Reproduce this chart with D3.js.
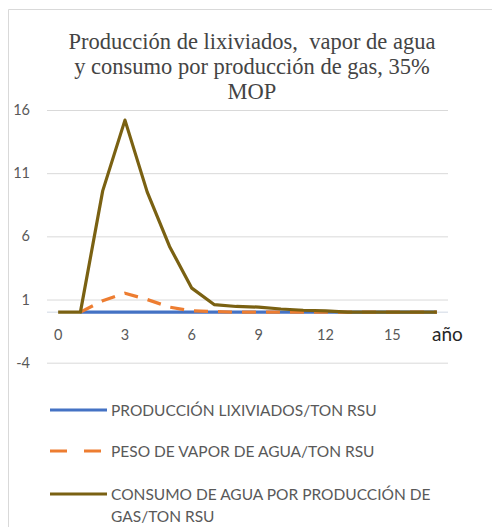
<!DOCTYPE html>
<html><head><meta charset="utf-8">
<script src="https://cdn.jsdelivr.net/npm/d3@7"></script>
<style>body{margin:0;background:#fff}svg{display:block}.ttl{white-space:pre}</style>
</head><body>
<svg id="c" width="492" height="527"></svg>
<script>
const titleLines = ["Producción de lixiviados,  vapor de agua", "y consumo por producción de gas, 35%", "MOP"];
const years = d3.range(0, 18);
const xTickLabels = [0, 3, 6, 9, 12, 15];
const yTicks = [-4, 1, 6, 11, 16];
const seriesNames = ["PRODUCCIÓN LIXIVIADOS/TON RSU", "PESO DE VAPOR DE AGUA/TON RSU", "CONSUMO DE AGUA POR PRODUCCIÓN DE GAS/TON RSU"];
const lixiviados = [null, 0, 0, 0, 0, 0, 0, 0, 0, 0, 0, 0, 0, 0, 0, 0, 0, 0];
const vapor = [null, 0, 0.9, 1.5, 1.0, 0.4, 0.1, 0.05, 0, 0, 0, 0, 0, 0, 0, 0, 0, 0];
const consumo = [0, 0, 9.6, 15.2, 9.5, 5.2, 1.9, 0.6, 0.45, 0.4, 0.25, 0.15, 0.1, 0, 0, 0, 0, 0];
const colors = ["#4472C4", "#ED7D31", "#7a6112"];

const svg = d3.select("#c");
// chart border
svg.append("path").attr("d", "M8.5,527 V9.5 H492").attr("fill", "none").attr("stroke", "#d9d9d9").attr("stroke-width", 1);

// title
svg.append("text").attr("class", "ttl").attr("text-anchor", "middle")
  .attr("font-family", "Liberation Serif")
  .attr("font-size", 22.5).attr("fill", "#444")
  .selectAll("tspan").data(titleLines).join("tspan")
  .attr("x", 252).attr("y", (d, i) => 49 + i * 25).text(d => d);

const x = d3.scaleBand().domain(years).range([47, 448]);
const y = d3.scaleLinear().domain([-4, 16]).range([362.7, 110]);
const cx = d => x(d) + x.bandwidth() / 2;

// gridlines
svg.append("g").attr("transform", "translate(47,0)")
  .call(d3.axisLeft(y).tickValues(yTicks).tickSize(-(448 - 47)).tickFormat(""))
  .call(g => g.select(".domain").remove())
  .call(g => g.selectAll("line").attr("stroke", "#d9d9d9").attr("stroke-width", 1));

// y labels
svg.append("g").attr("transform", "translate(30,0)")
  .call(d3.axisLeft(y).tickValues(yTicks).tickSize(0).tickPadding(0).tickFormat(d => String(d)))
  .call(g => g.select(".domain").remove())
  .call(g => g.selectAll("text").attr("font-family", "Lato, sans-serif").attr("font-size", 14.5).attr("fill", "#595959"));

// zero axis line
svg.append("line").attr("x1", 47).attr("x2", 448).attr("y1", y(0)).attr("y2", y(0))
  .attr("stroke", "#d0d8e4").attr("stroke-width", 1);

// x labels
const xa = svg.append("g").attr("transform", `translate(0,${y(0)})`)
  .call(d3.axisBottom(x).tickValues(xTickLabels).tickSize(0).tickPadding(18));
xa.select(".domain").remove();
xa.selectAll("text").attr("font-family", "Lato, sans-serif").attr("font-size", 14.5).attr("fill", "#595959");

svg.append("text").attr("x", 432).attr("y", 341).attr("font-family", "Lato, sans-serif")
  .attr("font-size", 19).attr("fill", "#262626").text("año");

const line = d3.line().defined(d => d != null).x((d, i) => cx(i)).y(d => y(d));
const data = [lixiviados, vapor, consumo];
data.forEach((s, k) => {
  svg.append("path").datum(s).attr("d", line).attr("fill", "none")
    .attr("stroke", colors[k]).attr("stroke-width", 3.2)
    .attr("stroke-linejoin", "round")
    .attr("stroke-dasharray", k === 1 ? "14,10" : null);
});

// legend
const legY = [410, 451, 494];
const leg = svg.append("g");
seriesNames.forEach((n, k) => {
  const g = leg.append("g").attr("transform", `translate(0,${legY[k]})`);
  g.append("line").attr("x1", 50).attr("x2", 107).attr("y1", 0).attr("y2", 0)
    .attr("stroke", colors[k]).attr("stroke-width", 3.2)
    .attr("stroke-dasharray", k === 1 ? "17,17" : null);
  const t = g.append("text").attr("font-family", "Lato, sans-serif").attr("font-size", 15.5)
    .attr("fill", "#595959");
  if (k === 2) {
    t.append("tspan").attr("x", 111).attr("y", 5.5).text("CONSUMO DE AGUA POR PRODUCCIÓN DE");
    t.append("tspan").attr("x", 111).attr("y", 28).text("GAS/TON RSU");
  } else {
    t.append("tspan").attr("x", 111).attr("y", 5.5).text(n);
  }
});
</script>
</body></html>
